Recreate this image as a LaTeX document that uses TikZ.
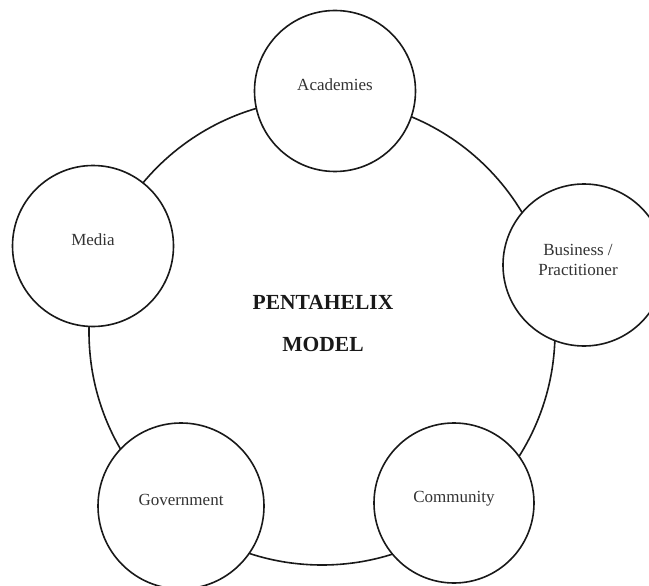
\documentclass[tikz,border=0pt]{standalone}
\usepackage{fontspec}
\setmainfont{Liberation Serif}
\begin{document}
\begin{tikzpicture}[x=1pt,y=-1pt,
  ring/.style={circle,draw=black!90,line width=1.6pt,inner sep=0pt},
  actor/.style={ring,fill=white},
  lbl/.style={font=\fontsize{17}{20}\selectfont,align=center,text=black!80},
  title/.style={font=\fontsize{21.5}{42}\selectfont\bfseries,align=center,text=black!90}]
\useasboundingbox[fill=white] (0,0) rectangle (649,586);
\node[ring,minimum size=466pt] (helix) at (322,332) {};
\node[title] (name) at (323,324) {PENTAHELIX\\MODEL};
\node[actor,minimum size=161pt] (acad) at (335,91) {};
\node[actor,minimum size=161pt] (media) at (93,246) {};
\node[actor,minimum size=162pt] (biz) at (584,265) {};
\node[actor,minimum size=166pt] (gov) at (181,506) {};
\node[actor,minimum size=160pt] (comm) at (454,503) {};
\node[lbl] (tacad) at ([yshift=6pt]acad.center) {Academies};
\node[lbl] (tmedia) at ([yshift=6pt]media.center) {Media};
\node[lbl] (tbiz) at ([yshift=5pt,xshift=-6pt]biz.center) {Business /\\Practitioner};
\node[lbl] (tgov) at ([yshift=6pt]gov.center) {Government};
\node[lbl] (tcomm) at ([yshift=4pt]comm.center) {Community};
\end{tikzpicture}
\end{document}
